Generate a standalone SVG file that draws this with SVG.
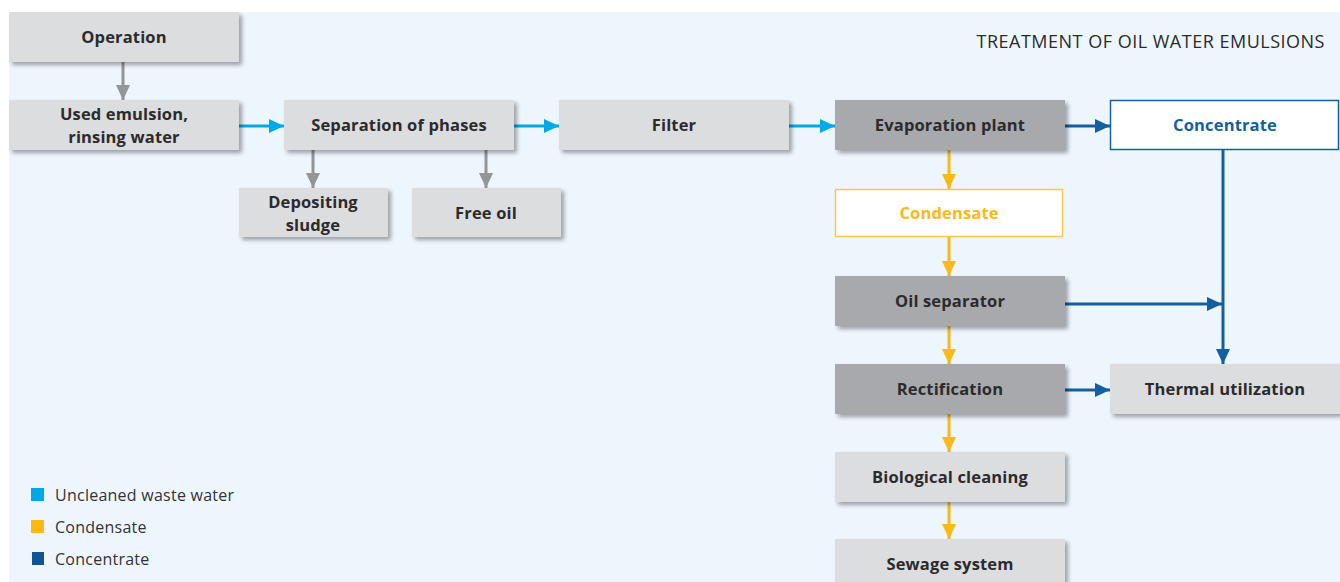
<svg xmlns="http://www.w3.org/2000/svg" width="1340" height="582" viewBox="0 0 1340 582">
<defs>
<style>
.bg{fill:#eef6fd}
.lg{fill:#dcdddf}
.dg{fill:#a8a9ac}
.lbl{font-family:"Open Sans","Liberation Sans",sans-serif;font-weight:bold;font-size:16.5px;letter-spacing:0.15px;fill:#2b2a2c;text-anchor:middle}
.leg{font-family:"Open Sans","Liberation Sans",sans-serif;font-size:16px;letter-spacing:0.25px;fill:#333}
.title{font-family:"Open Sans","Liberation Sans",sans-serif;font-size:18px;letter-spacing:0.5px;fill:#2b2a2c;text-anchor:end}
.c-gray{stroke:#949597;stroke-width:3;fill:none}
.c-lb{stroke:#00a8e6;stroke-width:3;fill:none}
.c-db{stroke:#135f9f;stroke-width:3;fill:none}
.c-y{stroke:#fdb913;stroke-width:3;fill:none}
</style>
<filter id="sh" x="-10%" y="-20%" width="130%" height="160%">
<feGaussianBlur in="SourceAlpha" stdDeviation="2"/>
<feOffset dx="3" dy="3" result="b"/>
<feComponentTransfer><feFuncA type="linear" slope="0.35"/></feComponentTransfer>
<feMerge><feMergeNode/><feMergeNode in="SourceGraphic"/></feMerge>
</filter>
<marker id="ag" markerUnits="userSpaceOnUse" markerWidth="16" markerHeight="14" refX="15" refY="7" orient="auto"><path d="M0,0 L15,7 L0,14 Z" fill="#949597"/></marker>
<marker id="alb" markerUnits="userSpaceOnUse" markerWidth="16" markerHeight="14" refX="15" refY="7" orient="auto"><path d="M0,0 L15,7 L0,14 Z" fill="#00a8e6"/></marker>
<marker id="adb" markerUnits="userSpaceOnUse" markerWidth="16" markerHeight="14" refX="15" refY="7" orient="auto"><path d="M0,0 L15,7 L0,14 Z" fill="#135f9f"/></marker>
<marker id="ay" markerUnits="userSpaceOnUse" markerWidth="16" markerHeight="14" refX="15" refY="7" orient="auto"><path d="M0,0 L15,7 L0,14 Z" fill="#fdb913"/></marker>
</defs>
<rect x="9" y="12" width="1331" height="570" class="bg"/>
<text x="1325" y="48" class="title">TREATMENT OF OIL WATER EMULSIONS</text>

<g id="connectors">
<line x1="123" y1="62" x2="123" y2="100" class="c-gray" marker-end="url(#ag)"/>
<line x1="313" y1="150" x2="313" y2="188" class="c-gray" marker-end="url(#ag)"/>
<line x1="486" y1="150" x2="486" y2="188" class="c-gray" marker-end="url(#ag)"/>
<line x1="239" y1="126" x2="284" y2="126" class="c-lb" marker-end="url(#alb)"/>
<line x1="514" y1="126" x2="559" y2="126" class="c-lb" marker-end="url(#alb)"/>
<line x1="789" y1="126" x2="835" y2="126" class="c-lb" marker-end="url(#alb)"/>
<line x1="1065" y1="126" x2="1110" y2="126" class="c-db" marker-end="url(#adb)"/>
<line x1="1223" y1="150" x2="1223" y2="364" class="c-db" marker-end="url(#adb)"/>
<line x1="1065" y1="304" x2="1222" y2="304" class="c-db" marker-end="url(#adb)"/>
<line x1="1065" y1="390" x2="1110" y2="390" class="c-db" marker-end="url(#adb)"/>
<line x1="949" y1="150" x2="949" y2="189" class="c-y" marker-end="url(#ay)"/>
<line x1="949" y1="237" x2="949" y2="276" class="c-y" marker-end="url(#ay)"/>
<line x1="949" y1="326" x2="949" y2="364" class="c-y" marker-end="url(#ay)"/>
<line x1="949" y1="414" x2="949" y2="452" class="c-y" marker-end="url(#ay)"/>
<line x1="949" y1="502" x2="949" y2="539" class="c-y" marker-end="url(#ay)"/>
</g>

<g id="operation"><rect x="9" y="12" width="230" height="50" class="lg" filter="url(#sh)"/><text x="124" y="43" class="lbl">Operation</text></g>
<g id="used-emulsion"><rect x="9" y="100" width="230" height="50" class="lg" filter="url(#sh)"/><text x="124" y="120" class="lbl">Used emulsion,</text><text x="124" y="143" class="lbl">rinsing water</text></g>
<g id="separation"><rect x="284" y="100" width="230" height="50" class="lg" filter="url(#sh)"/><text x="399" y="131" class="lbl">Separation of phases</text></g>
<g id="filter"><rect x="559" y="100" width="230" height="50" class="lg" filter="url(#sh)"/><text x="674" y="131" class="lbl">Filter</text></g>
<g id="evaporation"><rect x="835" y="100" width="230" height="50" class="dg" filter="url(#sh)"/><text x="950" y="131" class="lbl">Evaporation plant</text></g>
<g id="concentrate"><rect x="1110.5" y="100.5" width="228" height="49" fill="#fff" stroke="#135f9f" stroke-width="1.5"/><text x="1225" y="131" class="lbl" style="fill:#135f9f">Concentrate</text></g>
<g id="depositing-sludge"><rect x="239" y="188" width="149" height="49" class="lg" filter="url(#sh)"/><text x="313" y="208" class="lbl">Depositing</text><text x="313" y="231" class="lbl">sludge</text></g>
<g id="free-oil"><rect x="412" y="188" width="149" height="49" class="lg" filter="url(#sh)"/><text x="486" y="219" class="lbl">Free oil</text></g>
<g id="condensate"><rect x="835.5" y="189.5" width="227" height="47" fill="#fff" stroke="#fdc84a" stroke-width="1.5"/><text x="949" y="219" class="lbl" style="fill:#fdb913">Condensate</text></g>
<g id="oil-separator"><rect x="835" y="276" width="230" height="50" class="dg" filter="url(#sh)"/><text x="950" y="307" class="lbl">Oil separator</text></g>
<g id="rectification"><rect x="835" y="364" width="230" height="50" class="dg" filter="url(#sh)"/><text x="950" y="395" class="lbl">Rectification</text></g>
<g id="thermal"><rect x="1110" y="364" width="230" height="50" class="lg" filter="url(#sh)"/><text x="1225" y="395" class="lbl">Thermal utilization</text></g>
<g id="biological"><rect x="835" y="452" width="230" height="50" class="lg" filter="url(#sh)"/><text x="950" y="483" class="lbl">Biological cleaning</text></g>
<g id="sewage"><rect x="835" y="539" width="230" height="50" class="lg" filter="url(#sh)"/><text x="950" y="570" class="lbl">Sewage system</text></g>

<g id="legend">
<rect x="31" y="488" width="13" height="13" fill="#00a8e6"/><text x="55" y="501" class="leg">Uncleaned waste water</text>
<rect x="31" y="520" width="13" height="13" fill="#fdb913"/><text x="55" y="533" class="leg">Condensate</text>
<rect x="32" y="552" width="12" height="13" fill="#0f5596"/><text x="55" y="565" class="leg">Concentrate</text>
</g>
</svg>
